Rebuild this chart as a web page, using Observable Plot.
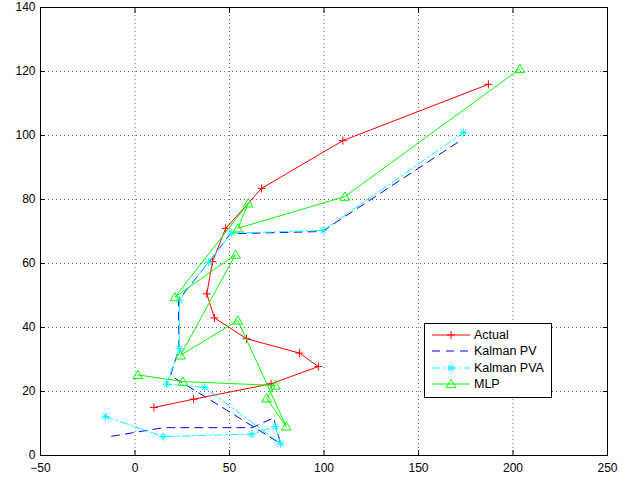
<!DOCTYPE html>
<html><head><meta charset="utf-8">
<script src="https://cdn.jsdelivr.net/npm/d3@7"></script>
<script src="https://cdn.jsdelivr.net/npm/@observablehq/plot@0.6"></script>
<style>
html,body{margin:0;padding:0;background:#fff;}
#wrap{position:relative;width:636px;height:478px;}
#legend{position:absolute;left:424px;top:323px;width:128px;height:75px;box-sizing:border-box;border:1px solid #000;background:#fff;font-family:"Liberation Sans",Arial,sans-serif;font-size:12.5px;color:#000;}
.row{position:absolute;left:0;height:16px;display:flex;align-items:center;white-space:nowrap;}
.row svg{display:block;margin-left:7px;overflow:visible;}
.row span{margin-left:4px;}
</style></head><body><div id="wrap"></div>
<script>
// ---- data ----
const seriesNames = ["Actual", "Kalman PV", "Kalman PVA", "MLP"];
const actualX = [10, 31, 72, 97, 87, 59, 42, 38, 41, 48, 67, 110, 187];
const actualY = [15, 17.6, 22.4, 27.8, 32, 36.5, 43, 50.5, 60.6, 71, 83.5, 98.4, 116];
const kalmanPVX = [-12.4, 15, 62, 73.4, 77, 40, 18.8, 23.3, 23, 38.5, 50.5, 99, 172.2];
const kalmanPVY = [6.0, 8.7, 8.7, 11.8, 3.7, 17.3, 25, 33.5, 48.6, 60, 69.3, 70, 98.4];
const kalmanPVAX = [-15.6, 14.9, 61.8, 74.2, 77, 36.8, 16.7, 23.5, 23.5, 39, 51.2, 99.4, 173.8];
const kalmanPVAY = [12.2, 5.9, 6.7, 9.1, 3.7, 21.3, 22.3, 33.5, 48.6, 60.4, 69.5, 70.3, 100.9];
const mlpX = [1.5, 25.3, 74.3, 69.6, 80, 54.4, 24.1, 53.2, 21.1, 59.9, 54.4, 111, 203.6];
const mlpY = [25.2, 23.1, 21.9, 17.9, 9.1, 42.2, 31.3, 62.8, 49.5, 78.8, 71, 80.9, 120.8];
const xTicks = [-50, 0, 50, 100, 150, 200, 250];
const yTicks = [0, 20, 40, 60, 80, 100, 120, 140];

// ---- styles ----
function sym(fn){ return {draw(ctx, size){ fn(ctx, Math.sqrt(size / Math.PI)); }}; }
const plusSym = sym((c, r) => { c.moveTo(-r, 0); c.lineTo(r, 0); c.moveTo(0, -r); c.lineTo(0, r); });
const starSym = sym((c, r) => {
  c.moveTo(-r, 0); c.lineTo(r, 0); c.moveTo(0, -r); c.lineTo(0, r);
  const d = r * 0.72; c.moveTo(-d, -d); c.lineTo(d, d); c.moveTo(-d, d); c.lineTo(d, -d);
});
const triSym = sym((c, r) => { c.moveTo(0, -r); c.lineTo(r * 1.05, r * 0.8); c.lineTo(-r * 1.05, r * 0.8); c.closePath(); });
const noSym = null;

const seriesX = [actualX, kalmanPVX, kalmanPVAX, mlpX];
const seriesY = [actualY, kalmanPVY, kalmanPVAY, mlpY];
const seriesColor = ["#ff0000", "#0000ff", "#00ffff", "#00ff00"];
const seriesDash = [null, "8,6", "8,3,2,3", null];
const seriesSym = [plusSym, noSym, starSym, triSym];
const seriesR = [4, 0, 4, 4.6];

const series = seriesNames.map((name, k) => ({
  name,
  data: seriesX[k].map((x, i) => ({x, y: seriesY[k][i]})),
  color: seriesColor[k], dash: seriesDash[k], symbol: seriesSym[k], r: seriesR[k]
}));

const marks = [
  Plot.gridX({ticks: xTicks, stroke: "#000", strokeOpacity: 0.6, strokeDasharray: "1,3"}),
  Plot.gridY({ticks: yTicks, stroke: "#000", strokeOpacity: 0.6, strokeDasharray: "1,3"})
];
for (const s of series) {
  marks.push(Plot.line(s.data, {x: "x", y: "y", stroke: s.color, strokeWidth: 1, strokeDasharray: s.dash}));
  if (s.symbol) marks.push(Plot.dot(s.data, {x: "x", y: "y", symbol: s.symbol, r: s.r, fill: "none", stroke: s.color, strokeWidth: 1}));
}
marks.push(
  Plot.frame({stroke: "#000", strokeWidth: 1}),
  Plot.axisX({ticks: xTicks, anchor: "bottom", tickSize: 5, dy: -5, tickFormat: () => "", label: null}),
  Plot.axisX({ticks: xTicks, anchor: "top", tickSize: 5, dy: 5, tickFormat: () => "", label: null}),
  Plot.axisY({ticks: yTicks, anchor: "left", tickSize: 5, dx: 5, tickFormat: () => "", label: null}),
  Plot.axisY({ticks: yTicks, anchor: "right", tickSize: 5, dx: -5, tickFormat: () => "", label: null}),
  Plot.axisX({ticks: xTicks, anchor: "bottom", tickSize: 0, tickPadding: 8, label: null}),
  Plot.axisY({ticks: yTicks, anchor: "left", tickSize: 0, tickPadding: 5, label: null})
);

const chart = Plot.plot({
  width: 636, height: 478,
  marginLeft: 40, marginRight: 29, marginTop: 7, marginBottom: 23,
  x: {domain: [-50, 250], label: null},
  y: {domain: [0, 140], label: null},
  style: {fontFamily: "'Liberation Sans', Arial, sans-serif", fontSize: "12px", background: "#fff", color: "#000"},
  marks
});
const wrap = document.getElementById("wrap");
wrap.appendChild(chart);

// legend
const legend = document.createElement("div");
legend.id = "legend";
series.forEach((s, i) => {
  const row = document.createElement("div");
  row.className = "row";
  row.style.top = (3 + i * 16.3) + "px";
  const svg = d3.create("svg").attr("width", 38).attr("height", 16);
  svg.append("line").attr("x1", 0).attr("x2", 38).attr("y1", 8).attr("y2", 8)
    .attr("stroke", s.color).attr("stroke-width", 1).attr("stroke-dasharray", s.dash);
  if (s.symbol) {
    const p = d3.path();
    s.symbol.draw(p, s.r * s.r * Math.PI);
    svg.append("path").attr("d", p.toString()).attr("transform", "translate(19,8)")
      .attr("fill", "none").attr("stroke", s.color).attr("stroke-width", 1);
  }
  row.appendChild(svg.node());
  const t = document.createElement("span");
  t.textContent = s.name;
  row.appendChild(t);
  legend.appendChild(row);
});
wrap.appendChild(legend);
</script></body></html>
